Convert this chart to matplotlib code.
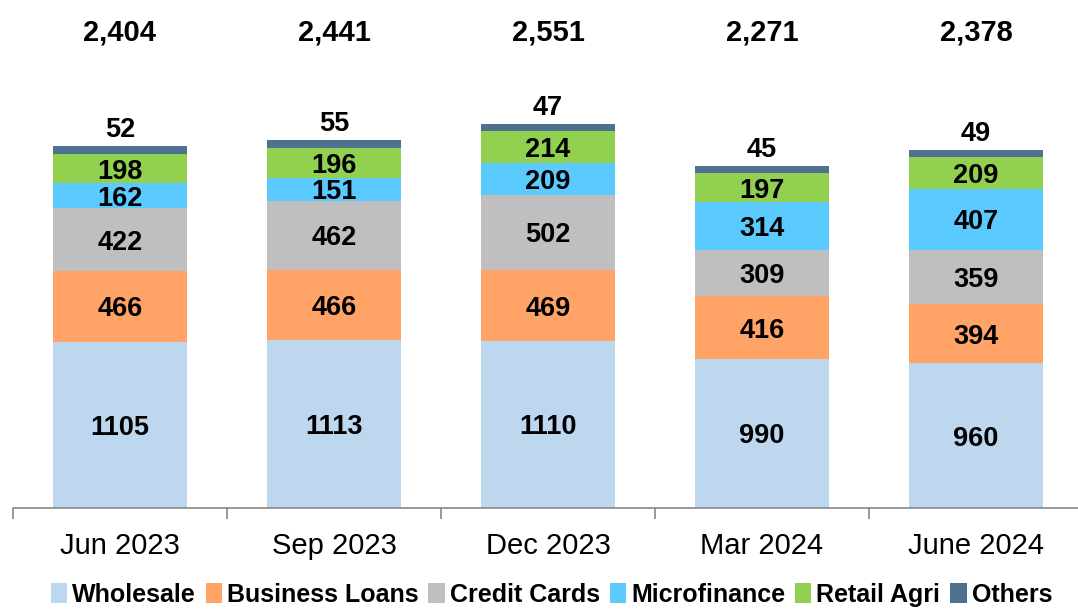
import matplotlib
matplotlib.use("Agg")
import matplotlib.pyplot as plt
import numpy as np

categories = ["Jun 2023", "Sep 2023", "Dec 2023", "Mar 2024", "June 2024"]
series_names = ["Wholesale", "Business Loans", "Credit Cards", "Microfinance", "Retail Agri", "Others"]
wholesale = [1105, 1113, 1110, 990, 960]
business_loans = [466, 466, 469, 416, 394]
credit_cards = [422, 462, 502, 309, 359]
microfinance = [162, 151, 209, 314, 407]
retail_agri = [198, 196, 214, 197, 209]
others = [52, 55, 47, 45, 49]
totals = ["2,404", "2,441", "2,551", "2,271", "2,378"]

colors = ["#BDD7EE", "#FFA366", "#BFBFBF", "#5BCBFF", "#92D050", "#4F7190"]

plt.rcParams['font.family'] = ['Liberation Sans', 'DejaVu Sans']

fig = plt.figure(figsize=(10.78, 6.09), dpi=100)
ax = fig.add_axes([13/1078, (609-508)/609, 1070/1078, 508/609])

x = np.arange(len(categories))
series = [wholesale, business_loans, credit_cards, microfinance, retail_agri, others]
bottom = np.zeros(len(categories))
width = 0.626
for name, vals, col in zip(series_names, series, colors):
    vals = np.array(vals, dtype=float)
    ax.bar(x, vals, width, bottom=bottom, color=col, label=name, edgecolor='none')
    if name != "Others":
        for xi, b, v in zip(x, bottom, vals):
            ax.text(xi, b + v / 2, f"{int(v)}", ha='center', va='center_baseline',
                    fontsize=19.5, fontweight='bold', color='black')
    else:
        for xi, b, v in zip(x, bottom, vals):
            ax.annotate(f"{int(v)}", (xi, b + v), xytext=(0, 13.5), textcoords='offset points',
                        ha='center', va='center_baseline', fontsize=19.5, fontweight='bold')
    bottom += vals

for xi, t in zip(x, totals):
    ax.text(xi, 3180, t, ha='center', va='center_baseline', fontsize=21, fontweight='bold')

ax.set_xlim(-0.5, 4.5)
ax.set_ylim(0, 3373)
for s in ['top', 'right', 'left']:
    ax.spines[s].set_visible(False)
ax.spines['bottom'].set_color('#888888')
ax.spines['bottom'].set_linewidth(1.2)
ax.set_yticks([])
ax.set_xticks(x)
ax.set_xticklabels(categories, fontsize=21)
ax.tick_params(axis='x', which='major', length=0, pad=17)
ax.set_xticks(np.arange(-0.5, 5.0, 1.0), minor=True)
ax.tick_params(axis='x', which='minor', length=8, color='#888888', width=1.2, direction='out')

handles, labels = ax.get_legend_handles_labels()
leg = fig.legend(handles, labels, loc='lower left', bbox_to_anchor=(0.026, -0.033), ncol=6,
                 frameon=False, handlelength=0.65, handleheight=0.9, handletextpad=0.2,
                 columnspacing=0.4, prop={'size': 18, 'weight': 'bold'})

fig.savefig("out.png", dpi=100)
